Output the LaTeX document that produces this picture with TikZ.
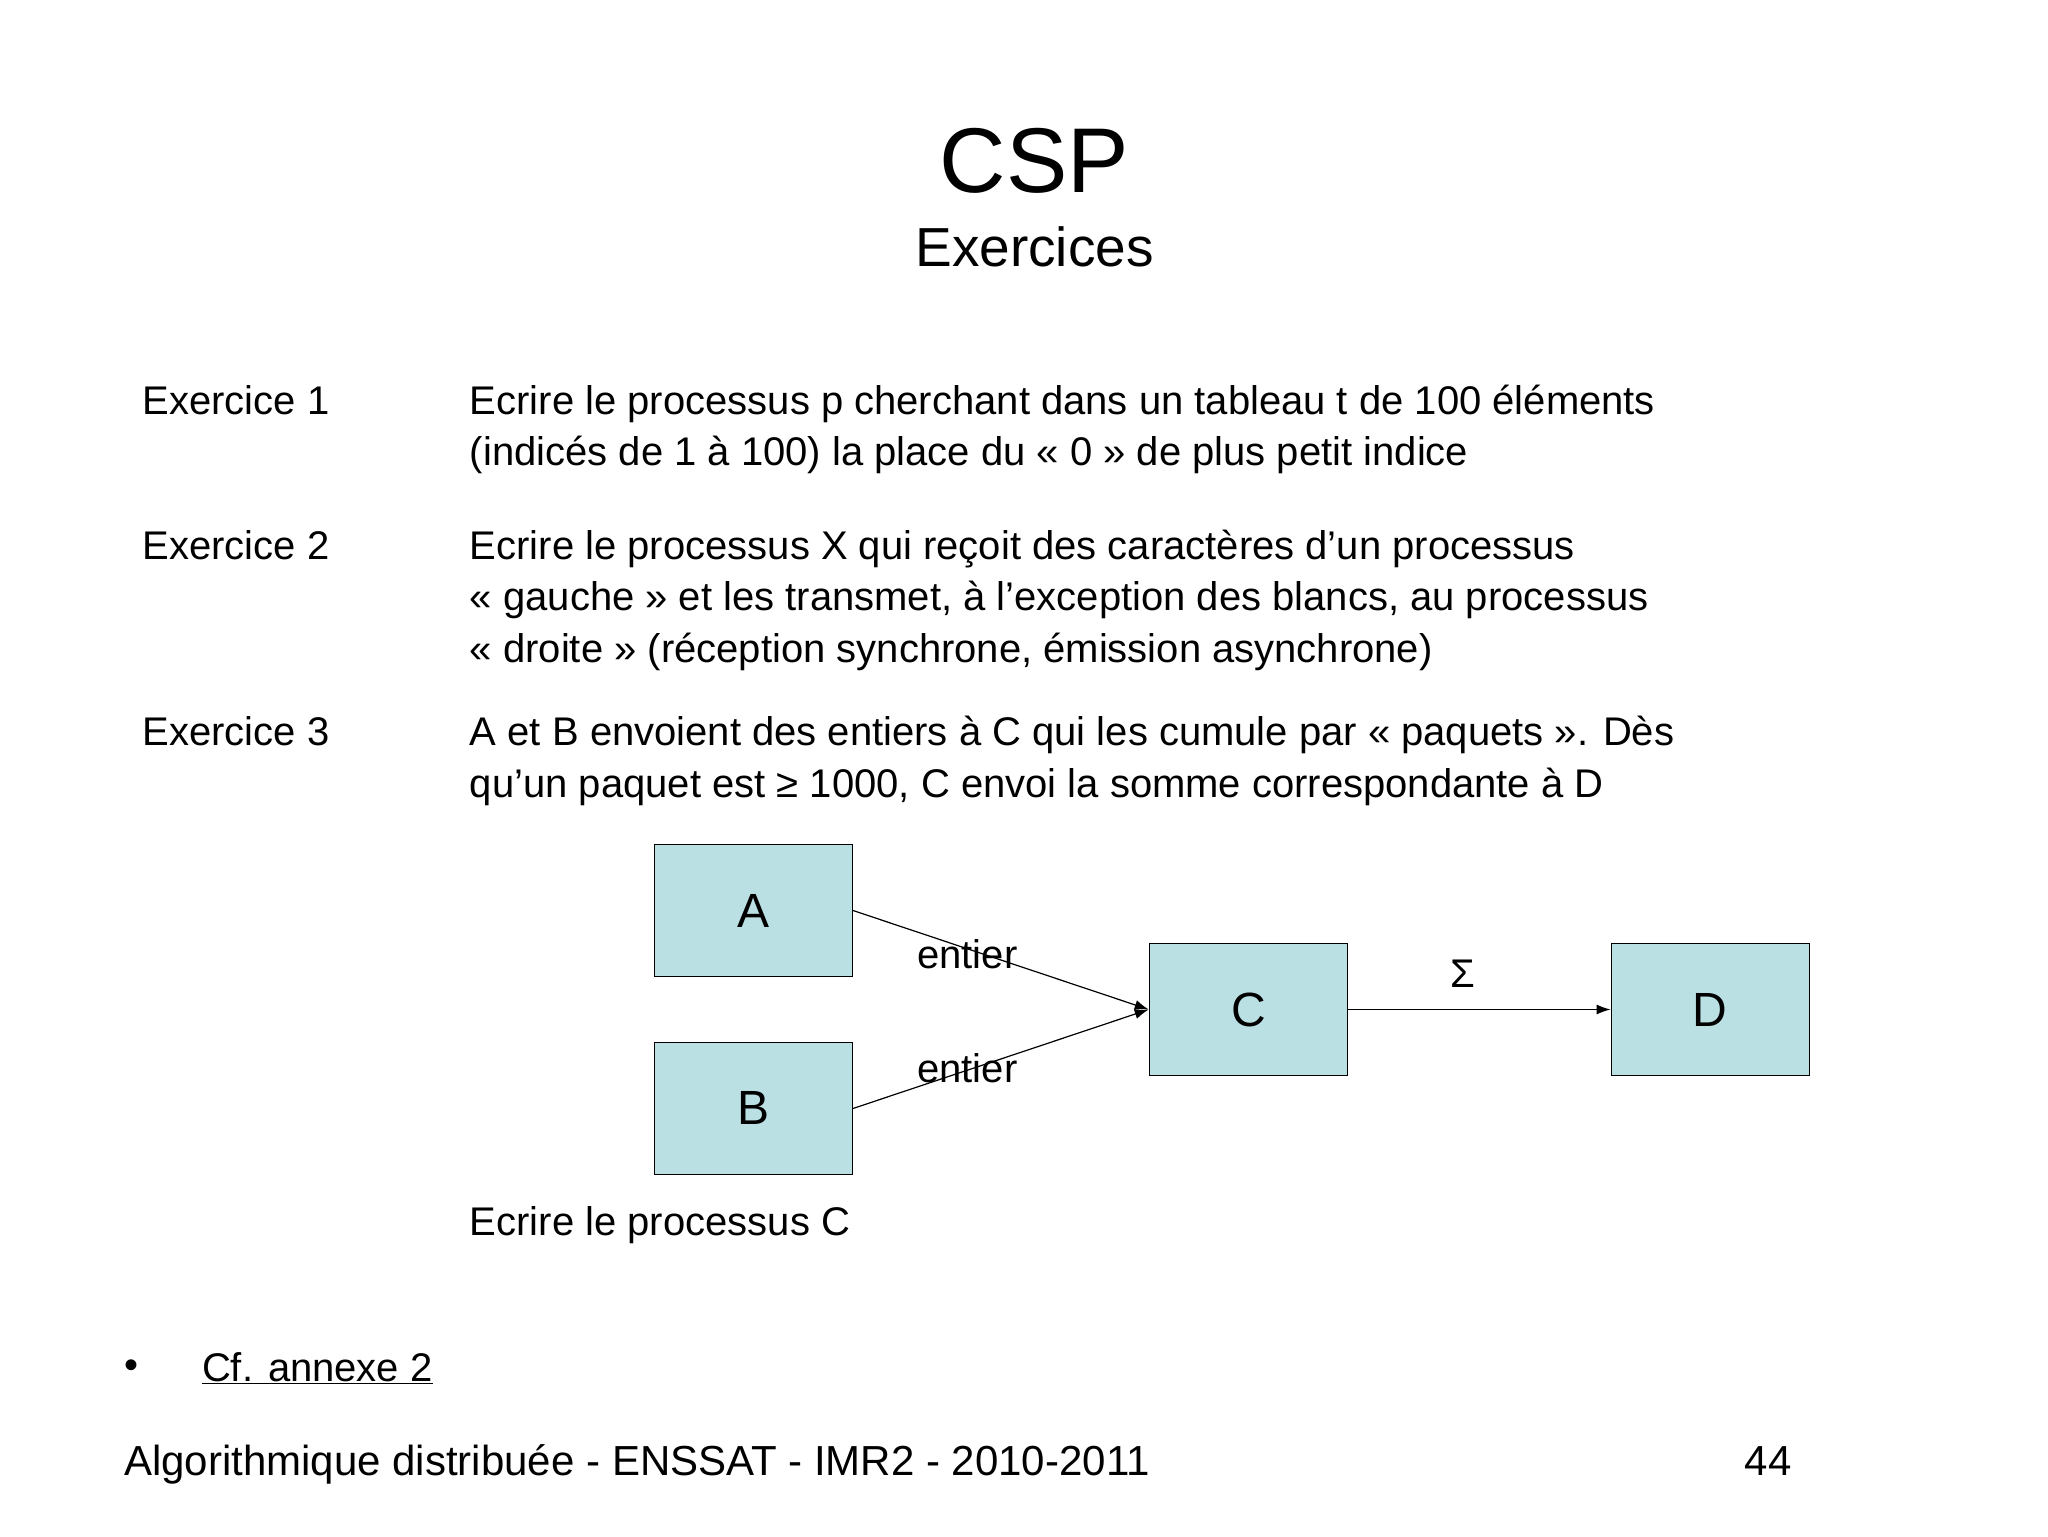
\documentclass[tikz,border=0pt]{standalone}
\usepackage{fontspec}
\setmainfont{Liberation Sans}
\usetikzlibrary{arrows.meta}
\begin{document}
\begin{tikzpicture}[x=1.3196pt,y=-1.3196pt,
  body/.style={anchor=base west,inner sep=0pt,font=\fontsize{40}{48}\selectfont},
  proc/.style={draw,line width=1.2pt,fill=cyan!10!teal!25!white,fill=boxc,minimum width=198pt,minimum height=132pt,inner sep=0pt,font=\fontsize{48}{56}\selectfont},
  conn/.style={line width=1.2pt,-{Latex[length=14pt,width=10pt]}}]
\definecolor{boxc}{HTML}{BBE0E3}
\useasboundingbox (0,0) rectangle (1552,1164);
\node[anchor=base,inner sep=0pt,font=\fontsize{92}{100}\selectfont] (t) at (784,146) {CSP};
\node[anchor=base,inner sep=0pt,font=\fontsize{55}{60}\selectfont] (st) at (784,202) {Exercices};
\node[body] (e1) at (108,314) {Exercice 1};
\node[body] (e1a) at (356,314) {Ecrire le processus p cherchant dans un tableau t de 100 éléments};
\node[body] (e1b) at (356,353) {(indicés de 1 à 100) la place du « 0 » de plus petit indice};
\node[body] (e2) at (108,424) {Exercice 2};
\node[body] (e2a) at (356,424) {Ecrire le processus X qui reçoit des caractères d’un processus};
\node[body] (e2b) at (356,463) {« gauche » et les transmet, à l’exception des blancs, au processus};
\node[body] (e2c) at (356,502) {« droite » (réception synchrone, émission asynchrone)};
\node[body] (e3) at (108,565) {Exercice 3};
\node[body] (e3a) at (356,565) {A et B envoient des entiers à C qui les cumule par « paquets ». Dès};
\node[body] (e3b) at (356,604) {qu’un paquet est ≥ 1000, C envoi la somme correspondante à D};
\node[proc] (A) at (571,690) {A};
\node[proc] (B) at (571,840) {B};
\node[proc] (C) at (946,765) {C};
\node[proc] (D) at (1296,765) {D};
\draw[conn] (A.east) -- (C.west);
\draw[conn] (B.east) -- (C.west);
\draw[conn] (C.east) -- (D.west);
\node[body] (l1) at (695,734) {entier};
\node[body] (l2) at (695,820) {entier};
\node[body] (sg) at (1099,748) {Σ};
\node[body] (ec) at (356,936) {Ecrire le processus C};
\node[body] (bu) at (94,1045) {•};
\node[body] (cf) at (153,1047) {\underline{Cf. annexe 2}};
\node[body,font=\fontsize{42}{48}\selectfont] (ft) at (94,1118) {Algorithmique distribuée - ENSSAT - IMR2 - 2010-2011};
\node[body,font=\fontsize{42}{48}\selectfont] (pg) at (1322,1118) {44};
\end{tikzpicture}
\end{document}
